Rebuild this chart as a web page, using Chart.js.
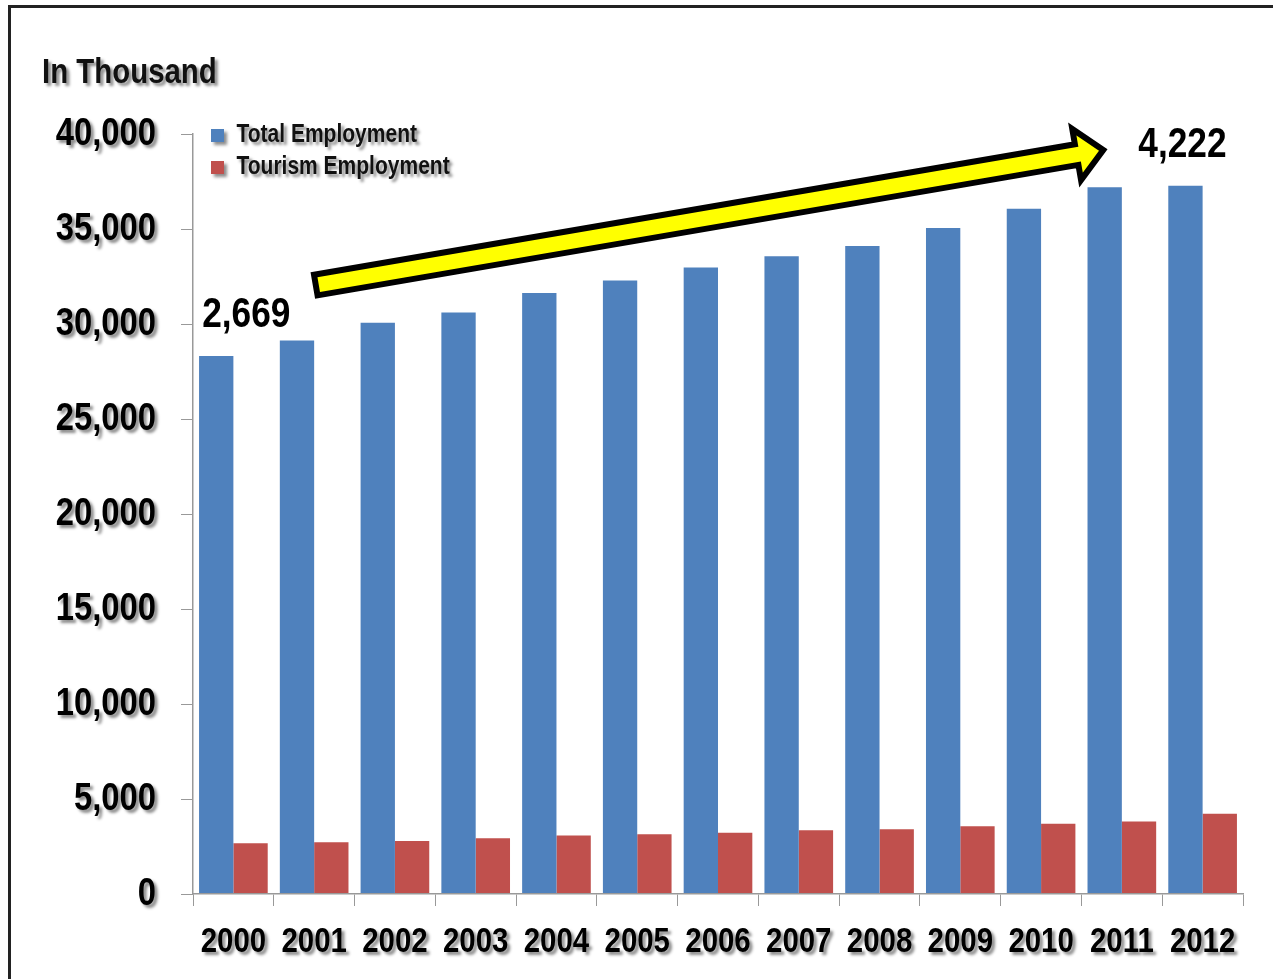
<!DOCTYPE html>
<html>
<head>
<meta charset="utf-8">
<script src="https://cdn.jsdelivr.net/npm/chart.js@4.4.1/dist/chart.umd.min.js"></script>
<style>
  html, body { margin: 0; padding: 0; background: #fff; overflow: hidden; }
  #frame {
    position: absolute; left: 8px; top: 5px; width: 1300px; height: 971px;
    border-left: 3px solid #222; border-top: 3px solid #222; border-bottom: 1px solid #ddd;
  }
  #wrap { position: absolute; left: 0; top: 0; width: 1273px; height: 979px; }
</style>
</head>
<body>
<div id="frame"></div>
<div id="wrap"><canvas id="myChart"></canvas></div>
<script>
const ctx = document.getElementById("myChart");

/* data */
var years = ["2000", "2001", "2002", "2003", "2004", "2005", "2006",
  "2007", "2008", "2009", "2010", "2011", "2012"];
var totalEmployment = [28320, 29130, 30070, 30610, 31630, 32290, 32970,
  33570, 34110, 35050, 36070, 37200, 37280];
var tourismEmployment = [2669, 2720, 2790, 2940, 3080, 3150, 3220,
  3360, 3410, 3560, 3700, 3820, 4222];
var yMin = 0;
var yMax = 40000;
var yStep = 5000;

/* no narrow font installed: "Narrow" in the family name means squeeze it */
var narrow = "'Liberation Sans Narrow', 'Liberation Sans', Arial, sans-serif";

const squeezeText = {
  id: "squeezeText",
  beforeInit(chart) {
    const c = chart.ctx;
    const orig = c.fillText.bind(c);
    c.fillText = function (text, x, y, maxWidth) {
      if (c.font.indexOf("Narrow") < 0) return orig(text, x, y, maxWidth);
      c.save();
      c.translate(x, y);
      c.scale(0.84, 1);
      orig(text, 0, 0);
      c.restore();
    };
  },
};

/* shadow on texts drawn before the bars, off for bars and axis lines */
const textShadow = {
  id: "textShadow",
  beforeDraw(chart) {
    const c = chart.ctx;
    c.shadowColor = "rgba(0,0,0,0.45)";
    c.shadowBlur = 3;
    c.shadowOffsetX = 3;
    c.shadowOffsetY = 3;
  },
  beforeDatasetsDraw(chart) {
    const c = chart.ctx;
    c.shadowColor = "rgba(0,0,0,0)";
    c.shadowBlur = 0;
    c.shadowOffsetX = 0;
    c.shadowOffsetY = 0;
  },
};

/* move legend inside the plot, top left */
const legendSpot = {
  id: "legendSpot",
  afterLayout(chart) {
    const lg = chart.legend;
    const a = chart.chartArea;
    const w = lg.width, h = lg.height;
    lg.left = a.left + 11;
    lg.top = a.top - 18;
    lg.right = lg.left + w;
    lg.bottom = lg.top + h;
  },
};

/* growth arrow and the two tourism labels */
const growthArrow = {
  id: "growthArrow",
  afterDraw(chart) {
    const c = chart.ctx;
    const x = chart.scales.x, y = chart.scales.y;
    const x1 = x.getPixelForValue(1.02), y1 = y.getPixelForValue(32050);
    const x2 = x.getPixelForValue(10.77), y2 = y.getPixelForValue(39160);
    const ang = Math.atan2(y2 - y1, x2 - x1);
    const len = Math.hypot(x2 - x1, y2 - y1);
    const hw = 10.5, headW = 26, headL = 27;
    c.save();
    c.shadowColor = "rgba(0,0,0,0)";
    c.translate(x1, y1);
    c.rotate(ang);
    c.beginPath();
    c.moveTo(0, -hw);
    c.lineTo(len - headL, -hw);
    c.lineTo(len - headL, -headW);
    c.lineTo(len, 0);
    c.lineTo(len - headL, headW);
    c.lineTo(len - headL, hw);
    c.lineTo(0, hw);
    c.closePath();
    c.fillStyle = "#ffff00";
    c.fill();
    c.lineWidth = 6;
    c.lineJoin = "miter";
    c.strokeStyle = "#000";
    c.stroke();
    c.restore();

    c.save();
    c.font = "bold 42px " + narrow;
    c.fillStyle = "#000";
    c.textAlign = "center";
    c.textBaseline = "middle";
    c.fillText(tourismEmployment[0].toLocaleString("en-US"),
      x.getPixelForValue(0.16), y.getPixelForValue(30450));
    c.fillText(tourismEmployment[12].toLocaleString("en-US"),
      x.getPixelForValue(11.75), y.getPixelForValue(39400));
    c.restore();
  },
};

new Chart(ctx, {
  type: "bar",
  data: {
    labels: years,
    datasets: [
      {
        label: "Total Employment",
        data: totalEmployment,
        backgroundColor: "#4f81bd",
        borderWidth: 0,
        categoryPercentage: 0.85,
        barPercentage: 1.0,
      },
      {
        label: "Tourism Employment",
        data: tourismEmployment,
        backgroundColor: "#c0504d",
        borderWidth: 0,
        categoryPercentage: 0.85,
        barPercentage: 1.0,
      },
    ],
  },
  options: {
    responsive: true,
    maintainAspectRatio: false,
    animation: false,
    layout: { padding: { left: 42, right: 30, top: 0, bottom: 0 } },
    plugins: {
      title: {
        display: true,
        text: "In Thousand",
        align: "start",
        color: "#111",
        font: { family: narrow, size: 35, weight: "bold" },
        padding: { top: 52, bottom: 40 },
      },
      legend: {
        position: "chartArea",
        align: "start",
        labels: {
          color: "#111",
          font: { family: narrow, size: 25, weight: "bold" },
          boxWidth: 13,
          boxHeight: 13,
          padding: 7,
        },
      },
      tooltip: { enabled: false },
    },
    scales: {
      x: {
        afterFit(scale) { scale.height = 85; },
        grid: {
          drawOnChartArea: false,
          offset: true,
          tickLength: 12,
          color: "#999",
          z: 1,
        },
        border: { color: "#999", width: 1.5, z: 1 },
        ticks: {
          color: "#000",
          padding: 15,
          autoSkip: false,
          maxRotation: 0,
          font: { family: narrow, size: 35, weight: "bold" },
        },
      },
      y: {
        min: yMin,
        max: yMax,
        afterFit(scale) { scale.width = 151; },
        grid: {
          drawOnChartArea: false,
          tickLength: 12,
          color: "#999",
          z: 1,
        },
        border: { color: "#999", width: 1.5, z: 1 },
        ticks: {
          stepSize: yStep,
          color: "#000",
          padding: 25,
          font: { family: narrow, size: 39, weight: "bold" },
          callback: (v) => v.toLocaleString("en-US"),
        },
      },
    },
  },
  plugins: [squeezeText, textShadow, legendSpot, growthArrow],
});
</script>
</body>
</html>
